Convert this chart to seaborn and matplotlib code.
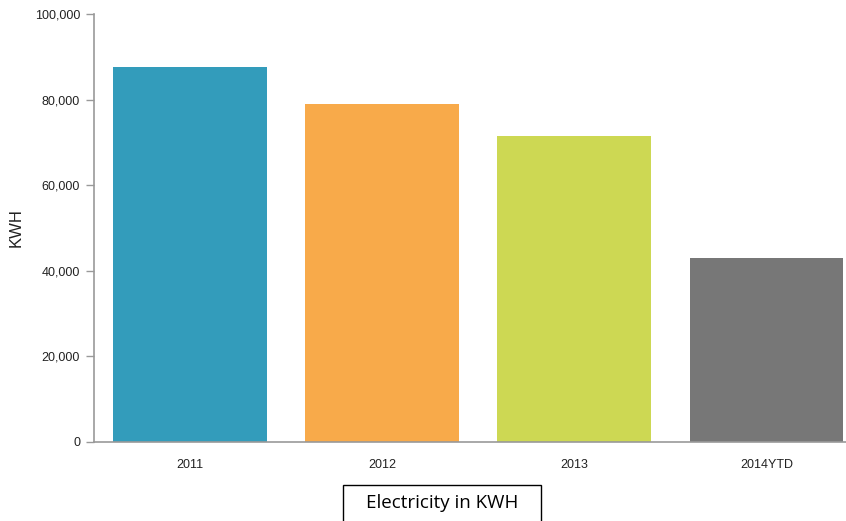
import matplotlib
matplotlib.use("Agg")
import matplotlib.pyplot as plt
import matplotlib.patches as mpatches
from matplotlib.ticker import FuncFormatter
import seaborn as sns
import pandas as pd

# === 資料 ===
years = ["2011", "2012", "2013", "2014YTD"]
kwh = [87700, 79000, 71500, 42900]
bar_colors = ["#339cbb", "#f8aa4a", "#cdd853", "#777777"]

df = pd.DataFrame({"Year": years, "KWH": kwh})

sns.set_theme(style="white")
plt.rcParams["font.family"] = ["Liberation Sans", "DejaVu Sans"]

fig = plt.figure(figsize=(8.46, 5.21), dpi=100)
ax = fig.add_axes([94 / 846, 79 / 521, 1 - 94 / 846, (442 - 14) / 521])

sns.barplot(data=df, x="Year", y="KWH", hue="Year", palette=bar_colors,
            width=0.8, legend=False, saturation=1, linewidth=0, ax=ax)

ax.set_ylim(0, 100000)
ax.set_xlim(-0.5, 3 + (846 - 766.5) / 192)
ax.set_yticks([0, 20000, 40000, 60000, 80000, 100000])
ax.yaxis.set_major_formatter(FuncFormatter(lambda v, p: f"{int(v):,}"))

ax.set_xlabel("")
ax.set_ylabel("KWH", fontsize=12, color="#222222")
ax.yaxis.set_label_coords((24 - 94) / 752, 0.5)

for side in ["top", "right"]:
    ax.spines[side].set_visible(False)
for side in ["left", "bottom"]:
    ax.spines[side].set_color("#999999")
    ax.spines[side].set_linewidth(1.2)

ax.tick_params(axis="y", left=True, length=6, width=1, color="#999999",
               labelsize=9, labelcolor="#222222", pad=4)
ax.tick_params(axis="x", bottom=False, labelsize=9, labelcolor="#222222", pad=6)

# 底部說明框
box = mpatches.Rectangle((343 / 846, -0.02), (541 - 343) / 846, (521 - 485) / 521 + 0.02,
                         transform=fig.transFigure, fill=False,
                         edgecolor="black", linewidth=1, clip_on=False)
fig.patches.append(box)
fig.text(442 / 846, 1 - 503 / 521, "Electricity in KWH", ha="center", va="center",
         fontsize=13.5, color="black", family=["Open Sans", "DejaVu Sans"])

plt.savefig("out.png", dpi=100)
plt.close()
